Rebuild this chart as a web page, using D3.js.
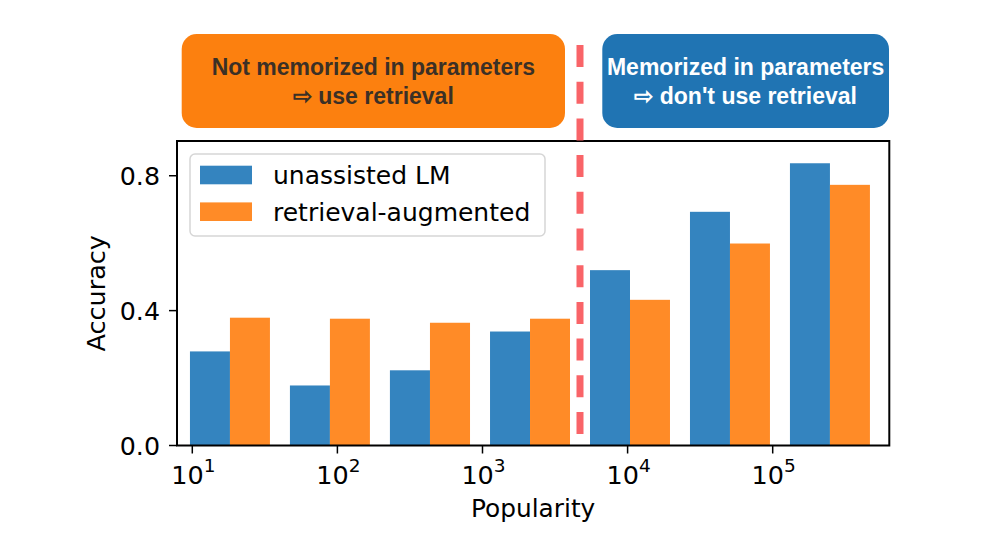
<!DOCTYPE html>
<html>
<head>
<meta charset="utf-8">
<script src="https://cdn.jsdelivr.net/npm/d3@7"></script>
<style>
  body { margin: 0; background: #fff; }
  svg { display: block; }
</style>
</head>
<body>
<div id="chart"></div>
<script>
// popularity bins (log10 of popularity, bin edges) and accuracy per bin
var binEdges = [0.915, 1.604, 2.293, 2.983, 3.672, 4.361, 5.050, 5.739]
var unassisted = [0.279, 0.178, 0.223, 0.338, 0.520, 0.693, 0.837]
var retrieval = [0.379, 0.376, 0.364, 0.376, 0.432, 0.599, 0.773]
var seriesNames = ["unassisted LM", "retrieval-augmented"]
var xTicks = [1, 2, 3, 4, 5]
var yTicks = [0.0, 0.4, 0.8]
var leftNote = ["Not memorized in parameters", "\u21E8 use retrieval"]
var rightNote = ["Memorized in parameters", "\u21E8 don't use retrieval"]

const W = 1000, H = 542
const margin = { top: 141, right: 110.7, bottom: 96.5, left: 177 }
const width = W - margin.left - margin.right,
    height = H - margin.top - margin.bottom

const blue = "#3484bf", orange = "#ff8b27"
const font = "'DejaVu Sans', sans-serif"

let svg = d3.select("#chart").append("svg")
    .attr("width", W)
    .attr("height", H)

let x = d3.scaleLog()
    .domain([Math.pow(10, 0.8946), Math.pow(10, 5.8036)])
    .range([0, width])

let y = d3.scaleLinear()
    .domain([0, 0.903])
    .range([height, 0])

let g = svg.append("g")
    .attr("transform", "translate(" + margin.left + "," + margin.top + ")")

// bars: each bin has blue in 10%-50%, orange in 50%-90% of its (log) width
var bins = unassisted.map(function (v, i) {
    return { lo: binEdges[i], hi: binEdges[i + 1], a: v, b: retrieval[i] }
})
function frac(d, f) {
    return x(Math.pow(10, d.lo + (d.hi - d.lo) * f))
}

g.selectAll(".bar-a")
    .data(bins)
    .enter().append("rect")
    .attr("class", "bar-a")
    .attr("x", function (d) { return frac(d, 0.1) })
    .attr("width", function (d) { return frac(d, 0.5) - frac(d, 0.1) })
    .attr("y", function (d) { return y(d.a) })
    .attr("height", function (d) { return y(0) - y(d.a) })
    .attr("fill", blue)

g.selectAll(".bar-b")
    .data(bins)
    .enter().append("rect")
    .attr("class", "bar-b")
    .attr("x", function (d) { return frac(d, 0.5) })
    .attr("width", function (d) { return frac(d, 0.9) - frac(d, 0.5) })
    .attr("y", function (d) { return y(d.b) })
    .attr("height", function (d) { return y(0) - y(d.b) })
    .attr("fill", orange)

// frame
g.append("rect")
    .attr("width", width)
    .attr("height", height)
    .attr("fill", "none")
    .attr("stroke", "#000")
    .attr("stroke-width", 2)

// y axis
let yAxis = g.append("g")
yAxis.selectAll("line")
    .data(yTicks)
    .enter().append("line")
    .attr("x1", -8).attr("x2", 0)
    .attr("y1", function (d) { return y(d) })
    .attr("y2", function (d) { return y(d) })
    .attr("stroke", "#000")
    .attr("stroke-width", 1.5)
yAxis.selectAll("text")
    .data(yTicks)
    .enter().append("text")
    .attr("x", -17)
    .attr("y", function (d) { return y(d) })
    .attr("dy", "0.36em")
    .attr("text-anchor", "end")
    .attr("font-family", font)
    .attr("font-size", 25.3)
    .text(function (d) { return d3.format(".1f")(d) })

// x axis (10^n labels)
let xAxis = g.append("g").attr("transform", "translate(0," + height + ")")
xAxis.selectAll("line")
    .data(xTicks)
    .enter().append("line")
    .attr("x1", function (d) { return x(Math.pow(10, d)) })
    .attr("x2", function (d) { return x(Math.pow(10, d)) })
    .attr("y1", 0).attr("y2", 8)
    .attr("stroke", "#000")
    .attr("stroke-width", 1.5)
let xt = xAxis.selectAll("text")
    .data(xTicks)
    .enter().append("text")
    .attr("x", function (d) { return x(Math.pow(10, d)) + 1 })
    .attr("y", 38)
    .attr("text-anchor", "middle")
    .attr("font-family", font)
    .attr("font-size", 25.5)
xt.append("tspan").text("10")
xt.append("tspan")
    .attr("dy", -11.5)
    .attr("font-size", 18.5)
    .text(function (d) { return d })

// axis labels
g.append("text")
    .attr("x", width / 2)
    .attr("y", height + 71)
    .attr("text-anchor", "middle")
    .attr("font-family", font)
    .attr("font-size", 24.8)
    .text("Popularity")

g.append("text")
    .attr("transform", "translate(-72," + (height / 2) + ") rotate(-90)")
    .attr("text-anchor", "middle")
    .attr("font-family", font)
    .attr("font-size", 25.5)
    .text("Accuracy")

// legend
let legend = g.append("g").attr("transform", "translate(13,13)")
legend.append("rect")
    .attr("width", 355)
    .attr("height", 82)
    .attr("rx", 5)
    .attr("fill", "#fff")
    .attr("fill-opacity", 0.8)
    .attr("stroke", "#d6d6d6")
    .attr("stroke-width", 1.5)
var legendRows = legend.selectAll(".row")
    .data(seriesNames)
    .enter().append("g")
    .attr("class", "row")
    .attr("transform", function (d, i) { return "translate(0," + (21 + i * 36.7) + ")" })
legendRows.append("rect")
    .attr("x", 10).attr("y", -9.3)
    .attr("width", 52).attr("height", 18.6)
    .attr("fill", function (d, i) { return i === 0 ? blue : orange })
legendRows.append("text")
    .attr("x", 83)
    .attr("dy", "0.36em")
    .attr("font-family", font)
    .attr("font-size", 25)
    .text(function (d) { return d })

// dashed divider at the bin edge between 10^3.7 bins
var splitX = margin.left + x(Math.pow(10, binEdges[4]))
svg.append("line")
    .attr("x1", splitX).attr("x2", splitX)
    .attr("y1", 45).attr("y2", 442)
    .attr("stroke", "#f96468")
    .attr("stroke-width", 7)
    .attr("stroke-dasharray", "22,14.7")

// note boxes on top
function note(lines, x0, x1, fill, color) {
    var box = svg.append("g")
    box.append("rect")
        .attr("x", x0).attr("y", 34)
        .attr("width", x1 - x0).attr("height", 94)
        .attr("rx", 15)
        .attr("fill", fill)
    box.selectAll("text")
        .data(lines)
        .enter().append("text")
        .attr("x", (x0 + x1) / 2)
        .attr("y", function (d, i) { return 75 + i * 28.5 })
        .attr("text-anchor", "middle")
        .attr("font-family", "'Liberation Sans', Arial, sans-serif")
        .attr("font-weight", "bold")
        .attr("font-size", 23)
        .attr("fill", color)
        .text(function (d) { return d })
}
note(leftNote, 181.7, 565, "#fc800f", "#3b3026")
note(rightNote, 602.3, 889, "#2074b3", "#ffffff")
</script>
</body>
</html>
